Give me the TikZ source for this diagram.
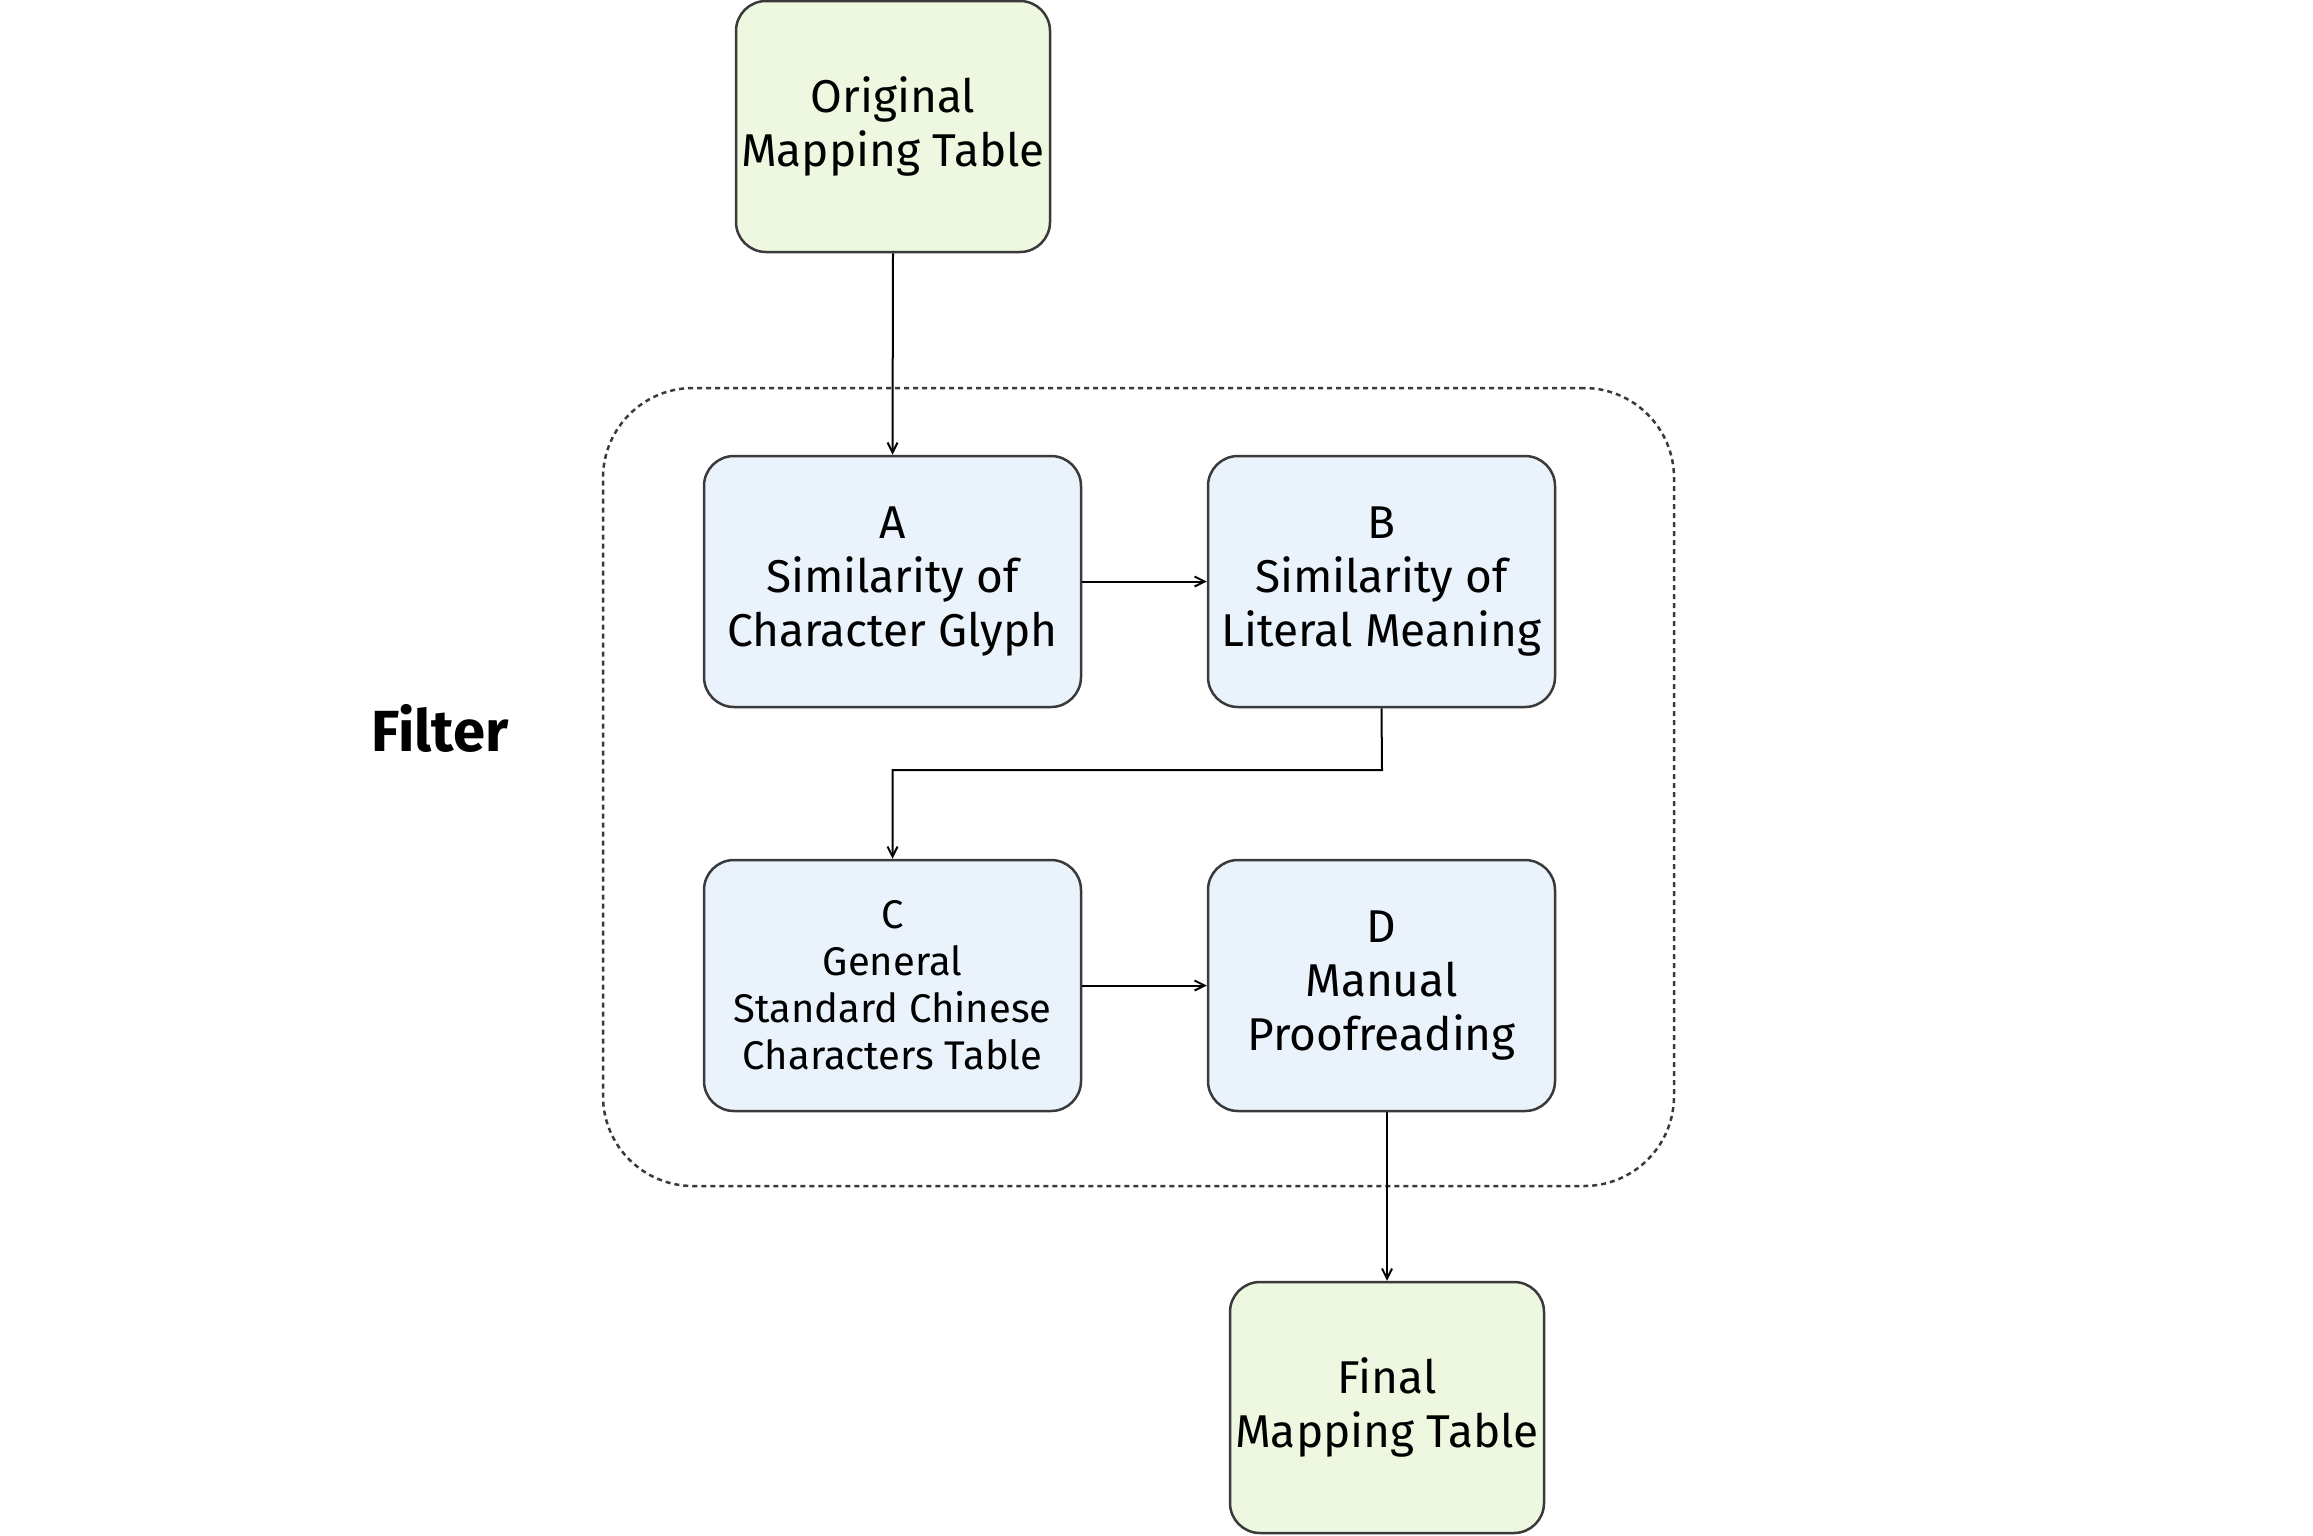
\documentclass[tikz,border=0pt]{standalone}
\usepackage{fontspec}
\setmainfont{Fira Sans}
\usetikzlibrary{arrows.meta,positioning}
\definecolor{greenfill}{HTML}{EEF7DF}
\definecolor{bluefill}{HTML}{EAF3FC}
\definecolor{edge}{HTML}{3A3A3A}
\tikzset{
  box/.style={draw=edge, line width=2.5pt, rounded corners=30pt, align=center, inner sep=0pt},
  greenbox/.style={box, fill=greenfill, minimum width=314pt, minimum height=251pt},
  bluebox/.style={box, fill=bluefill, minimum height=251pt},
  bigtext/.style={font=\fontsize{46}{54}\selectfont},
  smalltext/.style={font=\fontsize{40}{47}\selectfont},
  conn/.style={draw=black, line width=2pt, -{Straight Barb[open,length=10pt,width=10pt,line width=2pt]}},
  group/.style={draw=edge, line width=2.5pt, dash pattern=on 5pt off 4pt, rounded corners=90pt}
}
\begin{document}
\begin{tikzpicture}[x=1pt,y=-1pt]
\path[use as bounding box] (0,0) rectangle (2313,1535);
\node[group, minimum width=1071pt, minimum height=798pt] (grp) at (1138.5,787) {};
\node[greenbox, bigtext] (orig) at (893,126.5) {Original\\Mapping Table};
\node[bluebox, bigtext, minimum width=377pt] (A) at (892.5,581.5) {A\\Similarity of\\Character Glyph};
\node[bluebox, bigtext, minimum width=347pt] (B) at (1381.5,581.5) {B\\Similarity of\\Literal Meaning};
\node[bluebox, smalltext, minimum width=377pt] (C) at (892.5,985.5) {C\\General\\Standard Chinese\\Characters Table};
\node[bluebox, bigtext, minimum width=347pt] (D) at (1381.5,985.5) {D\\Manual\\Proofreading};
\node[greenbox, bigtext] (final) at (1387,1407.5) {Final\\Mapping Table};
\node[font=\fontsize{58}{64}\selectfont\bfseries] (filter) at (440,728) {Filter};
\coordinate (bc) at (1382,770);
\draw[conn] (orig.south) -- (A.north);
\draw[conn] (A.east) -- (B.west);
\draw[conn] (B.south) -- (bc) -| (C.north);
\draw[conn] (C.east) -- (D.west);
\draw[conn] (D.south -| final.north) -- (final.north);
\end{tikzpicture}
\end{document}
